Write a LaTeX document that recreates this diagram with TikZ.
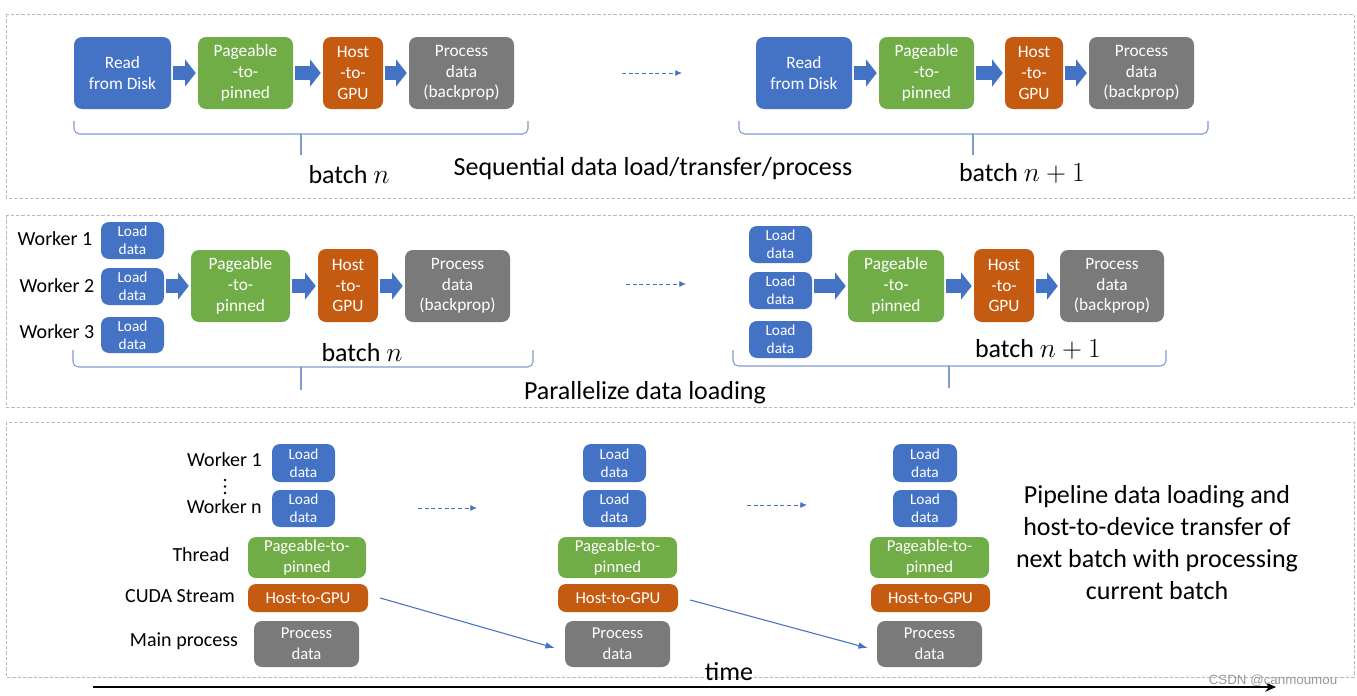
\documentclass[tikz,border=0pt]{standalone}
\usepackage{fontspec}
\setmainfont{Carlito}
\newfontfamily\wmfont{Liberation Sans}
\usetikzlibrary{arrows.meta,calc}
\definecolor{cblue}{HTML}{4472C4}
\definecolor{cgreen}{HTML}{70AD47}
\definecolor{corange}{HTML}{C55A11}
\definecolor{cgray}{HTML}{7A7A7A}
\definecolor{cbrace}{HTML}{7F9BD0}
\begin{document}
\begin{tikzpicture}[x=0.75pt,y=-0.75pt,
  box/.style={rounded corners=6pt, text=white, align=center, inner sep=0pt},
  big/.style={font=\fontsize{13}{15.5}\selectfont},
  small/.style={font=\fontsize{11.5}{13.5}\selectfont},
  mid/.style={font=\fontsize{12.5}{15.5}\selectfont},
  bl/.style={box, fill=cblue},
  gr/.style={box, fill=cgreen},
  orr/.style={box, fill=corange},
  gy/.style={box, fill=cgray},
  sz/.style 2 args={minimum width=#1*0.75pt, minimum height=#2*0.75pt},
  blk/.style={draw=cblue, line width=10pt, -{Triangle[length=8pt,width=20pt]}, shorten <=1.5pt, shorten >=1.5pt},
  dasharrow/.style={draw=cblue, dash pattern=on 3pt off 2pt, line width=0.7pt, -{Latex[length=5pt,width=4.5pt]}},
  thinarrow/.style={draw=cblue, line width=0.8pt, -{Latex[length=7pt,width=5pt]}},
  bracepath/.style={draw=cbrace, line width=0.8pt, rounded corners=4pt},
  panel/.style={draw=gray!55, dash pattern=on 2.5pt off 1.5pt, line width=0.6pt},
  lbl/.style={inner sep=0pt, font=\fontsize{15}{17}\selectfont},
  biglbl/.style={inner sep=0pt, font=\fontsize{19.5}{23}\selectfont},
]
\useasboundingbox[fill=white] (0,0) rectangle (1357,696);

% panels
\draw[panel] (6,14) rectangle (1354,198);
\draw[panel] (6,215) rectangle (1354,407);
\draw[panel] (6,422) rectangle (1354,677);

% ---------- Panel 1 ----------
\node[bl, big, sz={97}{72}] (r1) at (122.5,73) {Read\\from Disk};
\node[gr, big, sz={95}{72}] (p1) at (245.5,73) {Pageable\\-to-\\pinned};
\node[orr, big, sz={60}{72}] (h1) at (353,73) {Host\\-to-\\GPU};
\node[gy, big, sz={105}{72}] (d1) at (461.5,73) {Process\\data\\(backprop)};
\draw[blk] (r1) -- (p1);
\draw[blk] (p1) -- (h1);
\draw[blk] (h1) -- (d1);

\coordinate (da1) at (622,73);
\coordinate (db1) at (682,73);
\draw[dasharrow] (da1) -- (db1);

\node[bl, big, sz={96}{72}] (r2) at (804,73) {Read\\from Disk};
\node[gr, big, sz={95}{72}] (p2) at (926.5,73) {Pageable\\-to-\\pinned};
\node[orr, big, sz={58}{72}] (h2) at (1034,73) {Host\\-to-\\GPU};
\node[gy, big, sz={105}{72}] (d2) at (1141.5,73) {Process\\data\\(backprop)};
\draw[blk] (r2) -- (p2);
\draw[blk] (p2) -- (h2);
\draw[blk] (h2) -- (d2);

\draw[bracepath] (74,121) |- (528,134) -- (528,121);
\draw[bracepath] (301,134) -- (301,155);
\draw[bracepath] (739,121) |- (1208,134) -- (1208,121);
\draw[bracepath] (973,134) -- (973,155);

\node[biglbl] (bn1) at (349,175) {batch $n$};
\node[biglbl] (seq) at (653,169) {Sequential data load/transfer/process};
\node[biglbl] (bn2) at (1022,173) {batch $n+1$};

% ---------- Panel 2 ----------
\node[lbl] (w21) at (55,239) {Worker 1};
\node[lbl] (w22) at (57,286) {Worker 2};
\node[lbl] (w23) at (57,332) {Worker 3};
\node[bl, small, sz={63}{37}] (l21) at (132.5,240.5) {Load\\data};
\node[bl, small, sz={63}{37}] (l22) at (132.5,286.5) {Load\\data};
\node[bl, small, sz={63}{36}] (l23) at (132.5,335) {Load\\data};
\node[gr, big, sz={99}{72}] (p21) at (240.5,286) {Pageable\\-to-\\pinned};
\node[orr, big, sz={60}{73}] (h21) at (348,285.5) {Host\\-to-\\GPU};
\node[gy, big, sz={105}{72}] (d21) at (457.5,286) {Process\\data\\(backprop)};
\draw[blk] (l22.east |- p21) -- (p21);
\draw[blk] (p21) -- (h21.west |- p21);
\draw[blk] (h21.east |- d21) -- (d21);

\coordinate (da2) at (626,284);
\coordinate (db2) at (686,284);
\draw[dasharrow] (da2) -- (db2);

\node[bl, small, sz={63}{37}] (l24) at (780.5,244.5) {Load\\data};
\node[bl, small, sz={63}{37}] (l25) at (780.5,290.5) {Load\\data};
\node[bl, small, sz={63}{37}] (l26) at (780.5,339.5) {Load\\data};
\node[gr, big, sz={96}{72}] (p22) at (896,286) {Pageable\\-to-\\pinned};
\node[orr, big, sz={60}{73}] (h22) at (1004,285.5) {Host\\-to-\\GPU};
\node[gy, big, sz={104}{72}] (d22) at (1112,286) {Process\\data\\(backprop)};
\draw[blk] (l25.east |- p22) -- (p22);
\draw[blk] (p22) -- (h22.west |- p22);
\draw[blk] (h22.east |- d22) -- (d22);

\node[biglbl] (bn3) at (362,353) {batch $n$};
\node[biglbl] (bn4) at (1038,349) {batch $n+1$};
\draw[bracepath] (73,350) |- (533,367) -- (533,350);
\draw[bracepath] (301,367) -- (301,390);
\draw[bracepath] (733,350) |- (1166,366) -- (1166,350);
\draw[bracepath] (949,366) -- (949,388);
\node[biglbl] (par) at (645,393) {Parallelize data loading};

% ---------- Panel 3 ----------
\node[lbl, anchor=east] (w31) at (262,460) {Worker 1};
\fill (225,480) circle (1.4);
\fill (225,486.5) circle (1.4);
\fill (225,493) circle (1.4);
\node[lbl, anchor=east] (w3n) at (262,507) {Worker n};
\node[lbl] (thr) at (201,555) {Thread};
\node[lbl] (cuda) at (180,596) {CUDA Stream};
\node[lbl] (mainp) at (184,641) {Main process};

% column 1
\node[bl, small, sz={63}{38}] (l31) at (303.5,463) {Load\\data};
\node[bl, small, sz={63}{37}] (l32) at (303.5,508.5) {Load\\data};
\node[gr, mid, sz={118}{41}] (g31) at (307,557.5) {Pageable-to-\\pinned};
\node[orr, mid, sz={120}{28}] (h31) at (308,598) {Host-to-GPU};
\node[gy, mid, sz={105}{46}] (d31) at (306.5,644) {Process\\data};
% column 2
\node[bl, small, sz={63}{38}] (l33) at (614.5,463) {Load\\data};
\node[bl, small, sz={63}{37}] (l34) at (614.5,508.5) {Load\\data};
\node[gr, mid, sz={119}{41}] (g32) at (617.5,557.5) {Pageable-to-\\pinned};
\node[orr, mid, sz={120}{28}] (h32) at (618,598) {Host-to-GPU};
\node[gy, mid, sz={105}{46}] (d32) at (617.5,644) {Process\\data};
% column 3
\node[bl, small, sz={64}{38}] (l35) at (925,463) {Load\\data};
\node[bl, small, sz={64}{37}] (l36) at (925,508.5) {Load\\data};
\node[gr, mid, sz={119}{41}] (g33) at (929.5,557.5) {Pageable-to-\\pinned};
\node[orr, mid, sz={119}{28}] (h33) at (930.5,598) {Host-to-GPU};
\node[gy, mid, sz={105}{46}] (d33) at (929.5,644) {Process\\data};

\coordinate (da3) at (418,508);
\coordinate (db3) at (477,508);
\draw[dasharrow] (da3) -- (db3);
\coordinate (da4) at (747,505);
\coordinate (db4) at (807,505);
\draw[dasharrow] (da4) -- (db4);

\draw[thinarrow] ($(h31.east)+(12,0)$) -- ($(d32.west)+(-10,4)$);
\draw[thinarrow] ($(h32.east)+(12,2)$) -- ($(d33.west)+(-9,4)$);

\node[biglbl, align=center, font=\fontsize{19.5}{24}\selectfont] (pipe) at (1157,543)
  {Pipeline data loading and\\host-to-device transfer of\\next batch with processing\\current batch};

% time axis
\coordinate (ta) at (93,687);
\coordinate (tb) at (1276,687);
\draw[line width=1.5pt, -{Stealth[length=8pt,width=7pt]}] (ta) -- (tb);
\node[biglbl] (time) at (729,672) {time};
\node[inner sep=0pt, text=gray!80, font=\wmfont\fontsize{10}{12}\selectfont] (wm) at (1273,681) {CSDN @canmoumou};
\end{tikzpicture}
\end{document}
